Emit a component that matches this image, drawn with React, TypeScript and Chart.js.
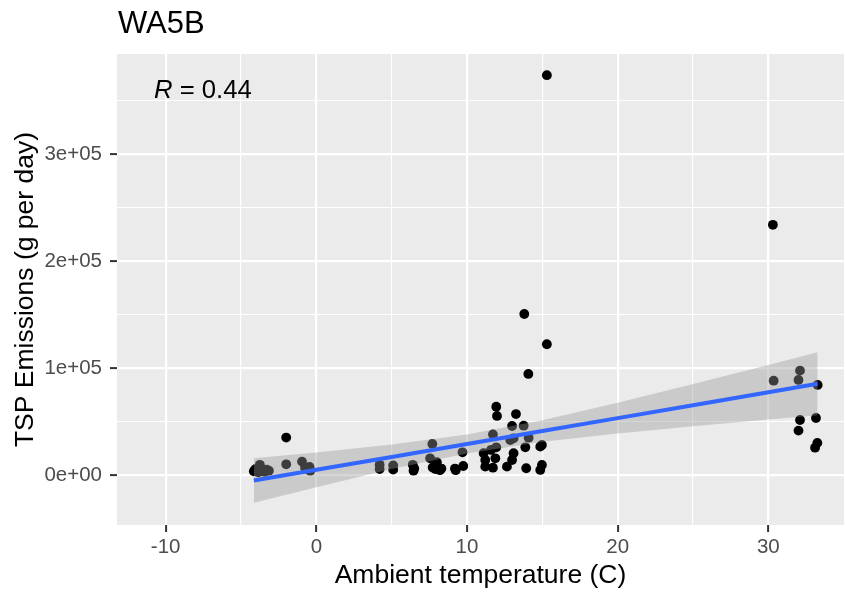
import React, { useEffect, useRef } from 'react';
import { Chart, registerables } from 'chart.js';
Chart.register(...registerables);

// Ambient temperature (C) for each observation
const tempC = [
  -4.15, -4.05, -3.85, -3.75, -3.65, -3.45, -3.3, -3.15,
  -2.0, -2.0, -0.95, -0.75, -0.55, -0.45, -0.4,
  4.2, 4.2, 5.1, 5.1, 6.4, 6.45, 6.5,
  7.55, 7.7, 7.72, 7.9, 8.0, 8.2, 8.3, 9.2, 9.25, 9.7, 9.75,
  11.1, 11.21, 11.21, 11.59, 11.72, 11.72, 11.88, 11.94, 11.94, 11.99,
  12.65, 12.87, 12.99, 12.99, 13.09, 13.09, 13.25, 13.76, 13.8, 13.87, 13.93, 14.07, 14.09,
  14.86, 14.86, 14.97, 14.97, 15.3, 15.3,
  30.3, 30.35, 32.0, 32.0, 32.1, 32.1, 33.1, 33.16, 33.25, 33.27,
];
// TSP emissions (g per day)
const tspEmissions = [
  3500, 5500, 2500, 9500, 4500, 3000, 5000, 4000,
  35000, 10000, 12500, 7000, 5000, 7500, 4000,
  9500, 5500, 9000, 5000, 9500, 4000, 6000,
  15600, 29000, 7000, 5500, 12000, 4500, 6000, 6000, 4500, 21200, 8400,
  20300, 14000, 7800, 23400, 38000, 6800, 15600, 63900, 25900, 55200,
  7800, 32700, 45800, 14000, 34300, 20300, 57000, 46100, 150600, 25900, 6300, 94500, 34900,
  26500, 4700, 28100, 9400, 122300, 374000,
  234000, 88200, 88900, 41500, 97600, 51400, 25500, 53300, 30000, 84200,
];

// Linear fit and its confidence band
const fitX = [-4.15, 0, 5, 10, 15, 20, 25, 30, 33.27];
const fitY = [-5240, 4800, 16900, 29000, 41100, 53200, 65300, 77400, 85280];
const bandUpper = [15600, 21000, 28400, 37800, 51200, 67600, 85000, 102900, 114700];
const bandLower = [-26100, -11400, 5500, 20200, 31000, 38800, 45500, 51900, 55800];

const xTicks = [-10, -5, 0, 5, 10, 15, 20, 25, 30];
const xMajor = [-10, 0, 10, 20, 30];
const xTickLabels = ['-10', '0', '10', '20', '30'];
const yTicks = [0, 50000, 100000, 150000, 200000, 250000, 300000, 350000];
const yMajor = [0, 100000, 200000, 300000];
const yTickLabels = ['0e+00', '1e+05', '2e+05', '3e+05'];

const titleText = 'WA5B';
const xTitle = 'Ambient temperature (C)';
const yTitle = 'TSP Emissions (g per day)';
const rLabel = 'R';
const rValue = ' = 0.44';

const FONT = "'Liberation Sans', Arial, Helvetica, sans-serif";

export default function App() {
  const ref = useRef<HTMLCanvasElement | null>(null);
  useEffect(() => {
    const canvas = ref.current;
    if (!canvas) return;
    const toPts = (xs: number[], ys: number[]) => xs.map((x, i) => ({ x, y: ys[i] }));

    const panelPlugin = {
      id: 'panel',
      beforeDraw(chart: any) {
        const { ctx, chartArea: a } = chart;
        ctx.save();
        ctx.fillStyle = '#FFFFFF';
        ctx.fillRect(0, 0, chart.width, chart.height);
        ctx.fillStyle = '#EBEBEB';
        ctx.fillRect(a.left, a.top, a.right - a.left, a.bottom - a.top);
        ctx.restore();
      },
      afterDraw(chart: any) {
        const { ctx, chartArea: a } = chart;
        ctx.save();
        ctx.fillStyle = '#000000';
        ctx.textBaseline = 'alphabetic';
        ctx.font = `31px ${FONT}`;
        ctx.textAlign = 'left';
        ctx.fillText(titleText, 118, 33);
        ctx.font = `26.5px ${FONT}`;
        ctx.textAlign = 'center';
        ctx.fillText(xTitle, (a.left + a.right) / 2, 583);
        ctx.save();
        ctx.translate(33, (a.top + a.bottom) / 2);
        ctx.rotate(-Math.PI / 2);
        ctx.textAlign = 'center';
        ctx.fillText(yTitle, 0, 0);
        ctx.restore();
        ctx.textAlign = 'left';
        ctx.font = `italic 25.7px ${FONT}`;
        ctx.fillText(rLabel, 154, 98);
        const w = ctx.measureText(rLabel).width;
        ctx.font = `25.7px ${FONT}`;
        ctx.fillText(rValue, 154 + w, 98);
        ctx.restore();
      },
    };

    const gridCfg = (major: number[]) => ({
      color: '#FFFFFF',
      lineWidth: (c: any) => (c.tick && major.includes(c.tick.value) ? 2.2 : 1.1),
      drawTicks: true,
      tickLength: 7,
      tickWidth: 2,
      tickColor: (c: any) => (c.tick && major.includes(c.tick.value) ? '#333333' : 'rgba(0,0,0,0)'),
    });

    const chart = new Chart(canvas, {
      type: 'scatter',
      data: {
        datasets: [
          { type: 'line', data: toPts(fitX, fitY), borderColor: '#3366FF', borderWidth: 4, pointRadius: 0, fill: false, order: 0 } as any,
          { type: 'line', data: toPts(fitX, bandUpper), borderColor: 'rgba(0,0,0,0)', borderWidth: 0, pointRadius: 0, fill: '+1', backgroundColor: 'rgba(153,153,153,0.4)', order: 1 } as any,
          { type: 'line', data: toPts(fitX, bandLower), borderColor: 'rgba(0,0,0,0)', borderWidth: 0, pointRadius: 0, fill: false, order: 2 } as any,
          { type: 'scatter', data: toPts(tempC, tspEmissions), backgroundColor: '#000000', borderWidth: 0, pointRadius: 4.9, order: 3 } as any,
        ],
      },
      options: {
        animation: false,
        responsive: false,
        maintainAspectRatio: false,
        layout: { autoPadding: false, padding: { top: 54, right: 1, left: 0, bottom: 0 } },
        plugins: { legend: { display: false }, tooltip: { enabled: false }, title: { display: false } },
        scales: {
          x: {
            type: 'linear', min: -13.23, max: 35.02,
            afterBuildTicks: (s: any) => { s.ticks = xTicks.map((v) => ({ value: v })); },
            afterFit: (s: any) => { s.height = 67; s.paddingLeft = 0; s.paddingRight = 0; s.paddingTop = 0; s.paddingBottom = 0; },
            grid: gridCfg(xMajor) as any,
            border: { display: false },
            ticks: {
              autoSkip: false, maxRotation: 0, padding: 3, color: '#4D4D4D', font: { family: FONT, size: 20.5 },
              callback: (v: any) => { const i = xMajor.indexOf(Number(v)); return i >= 0 ? xTickLabels[i] : ''; },
            },
          },
          y: {
            type: 'linear', min: -46800, max: 393800,
            afterBuildTicks: (s: any) => { s.ticks = yTicks.map((v) => ({ value: v })); },
            afterFit: (s: any) => { s.width = 117; s.paddingLeft = 0; s.paddingRight = 0; s.paddingTop = 0; s.paddingBottom = 0; },
            grid: gridCfg(yMajor) as any,
            border: { display: false },
            ticks: {
              autoSkip: false, padding: 8, color: '#4D4D4D', font: { family: FONT, size: 20.5 },
              callback: (v: any) => { const i = yMajor.indexOf(Number(v)); return i >= 0 ? yTickLabels[i] : ''; },
            },
          },
        },
      },
      plugins: [panelPlugin],
    } as any);
    return () => chart.destroy();
  }, []);

  return (
    <div style={{ position: 'absolute', left: 0, top: 0, width: 845, height: 592 }}>
      <canvas ref={ref} width={845} height={592} style={{ width: 845, height: 592, display: 'block' }} />
    </div>
  );
}
